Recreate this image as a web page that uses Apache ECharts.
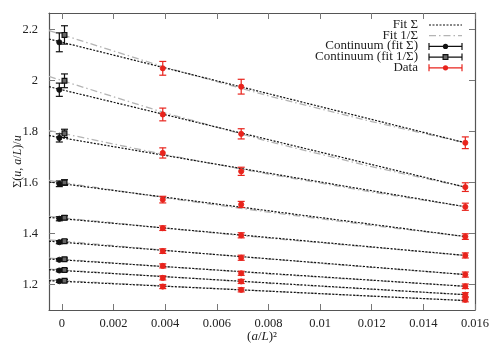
<!DOCTYPE html>
<html>
<head>
<meta charset="utf-8">
<script src="https://cdn.jsdelivr.net/npm/echarts@6/dist/echarts.min.js"></script>
<style>html,body{margin:0;padding:0;background:#fff}#c{width:495px;height:349px}</style>
</head>
<body>
<div id="c"></div>
<script>
// ---- data ----
const xTicks = [0, 0.002, 0.004, 0.006, 0.008, 0.01, 0.012, 0.014, 0.016];
const yTicks = [1.2, 1.4, 1.6, 1.8, 2.0, 2.2];

// lattice data points: (a/L)^2 for L/a = 16, 12, 8
const dataX = [0.00390625, 0.00694444, 0.015625];
const dataL16 = [2.048, 1.867, 1.716, 1.533, 1.421, 1.331, 1.273, 1.226, 1.192];
const errL16  = [0.027, 0.025, 0.020, 0.013, 0.009, 0.009, 0.008, 0.008, 0.008];
const dataL12 = [1.976, 1.791, 1.644, 1.514, 1.393, 1.305, 1.244, 1.212, 1.179];
const errL12  = [0.029, 0.020, 0.016, 0.012, 0.010, 0.010, 0.008, 0.008, 0.008];
const dataL8  = [1.756, 1.582, 1.505, 1.388, 1.314, 1.239, 1.193, 1.160, 1.140];
const errL8   = [0.023, 0.017, 0.014, 0.011, 0.010, 0.010, 0.009, 0.008, 0.008];

// continuum extrapolations (drawn slightly offset around x = 0)
const contSigmaX = -0.0001;
const contSigma    = [2.150, 1.964, 1.775, 1.595, 1.458, 1.366, 1.297, 1.255, 1.213];
const contSigmaErr = [0.037, 0.026, 0.016, 0.011, 0.008, 0.006, 0.005, 0.005, 0.005];
const contInvX = 0.0001;
const contInv    = [2.179, 1.999, 1.793, 1.600, 1.462, 1.370, 1.299, 1.257, 1.215];
const contInvErr = [0.036, 0.027, 0.016, 0.011, 0.008, 0.006, 0.005, 0.005, 0.005];

// Fit Sigma (straight lines): values at both ends
const fitSigmaX = [-0.0005, 0.015625];
const fitSigmaStart = [2.163, 1.976, 1.784, 1.602, 1.463, 1.370, 1.300, 1.258, 1.215];
const fitSigmaEnd   = [1.756, 1.582, 1.505, 1.388, 1.314, 1.239, 1.193, 1.160, 1.137];

// Fit 1/Sigma (slightly curved): values
const fitInvX = [-0.0005, 0.004, 0.008, 0.012, 0.015625];
const fitInvCurves = [
  [2.196, 2.052, 1.940, 1.839, 1.756],
  [2.016, 1.873, 1.761, 1.662, 1.582],
  [1.804, 1.709, 1.633, 1.563, 1.505],
  [1.608, 1.540, 1.484, 1.432, 1.388],
  [1.467, 1.421, 1.382, 1.346, 1.314],
  [1.375, 1.334, 1.300, 1.267, 1.239],
  [1.303, 1.270, 1.242, 1.216, 1.193],
  [1.260, 1.231, 1.205, 1.181, 1.160],
  [1.218, 1.194, 1.174, 1.154, 1.137]
];

// ---- build ----
const RED = '#e8231c';
const FONT = '"Liberation Serif", "DejaVu Serif", serif';

function errRender(color, marker) {
  return function (params, api) {
    const x = api.value(0), y = api.value(1), e = api.value(2);
    const p = api.coord([x, y]);
    const t = api.coord([x, y + e]);
    const b = api.coord([x, y - e]);
    const cw = 3.5;
    const st = { stroke: color, lineWidth: 1.2 };
    const ch = [
      { type: 'line', shape: { x1: p[0], y1: t[1], x2: p[0], y2: b[1] }, style: st },
      { type: 'line', shape: { x1: p[0] - cw, y1: t[1], x2: p[0] + cw, y2: t[1] }, style: st },
      { type: 'line', shape: { x1: p[0] - cw, y1: b[1], x2: p[0] + cw, y2: b[1] }, style: st }
    ];
    if (marker === 'circle') {
      ch.push({ type: 'circle', shape: { cx: p[0], cy: p[1], r: 2.6 }, style: { fill: color, stroke: color, lineWidth: 0.8 } });
    } else {
      ch.push({ type: 'rect', shape: { x: p[0] - 2.4, y: p[1] - 2.4, width: 4.8, height: 4.8 }, style: { fill: '#666', stroke: color, lineWidth: 1.2 } });
    }
    return { type: 'group', children: ch };
  };
}

const series = [];
fitInvCurves.forEach((c, i) => {
  series.push({
    type: 'line', name: 'Fit 1/Σ', showSymbol: false, silent: true, z: 1,
    data: fitInvX.map((x, k) => [x, c[k]]),
    lineStyle: { color: '#b4b4b4', width: 1.3, type: [7, 3, 1.5, 3] }
  });
});
fitSigmaStart.forEach((s, i) => {
  series.push({
    type: 'line', name: 'Fit Σ', showSymbol: false, silent: true, z: 2,
    data: [[fitSigmaX[0], s], [fitSigmaX[1], fitSigmaEnd[i]]],
    lineStyle: { color: '#111', width: 1.2, type: [2, 1.5] }
  });
});
const dataPts = [];
[dataL16, dataL12, dataL8].forEach((arr, j) => {
  const errs = [errL16, errL12, errL8][j];
  arr.forEach((v, i) => dataPts.push([dataX[j], v, errs[i]]));
});
series.push({ type: 'custom', name: 'Data', z: 5, renderItem: errRender(RED, 'circle'), data: dataPts, encode: { x: 0, y: 1 } });
series.push({ type: 'custom', name: 'Continuum (fit Σ)', z: 5, renderItem: errRender('#111', 'circle'),
  data: contSigma.map((v, i) => [contSigmaX, v, contSigmaErr[i]]), encode: { x: 0, y: 1 } });
series.push({ type: 'custom', name: 'Continuum (fit 1/Σ)', z: 6, renderItem: errRender('#111', 'square'),
  data: contInv.map((v, i) => [contInvX, v, contInvErr[i]]), encode: { x: 0, y: 1 } });

// legend drawn as graphic (right-aligned text, sample on the right)
const legRows = [
  { text: 'Fit Σ', kind: 'dot' },
  { text: 'Fit 1/Σ', kind: 'dashdot' },
  { text: 'Continuum (fit Σ)', kind: 'errc', color: '#111' },
  { text: 'Continuum (fit 1/Σ)', kind: 'errs', color: '#111' },
  { text: 'Data', kind: 'errc', color: RED }
];
const legX0 = 429, legX1 = 462, legTextRight = 418, legY0 = 25, legDy = 10.7;
const graphic = [];
legRows.forEach((r, i) => {
  const y = legY0 + i * legDy;
  graphic.push({ type: 'text', right: 495 - legTextRight, top: y - 7, z: 10,
    style: { text: r.text, font: '13px ' + FONT, fill: '#222', textAlign: 'right' } });
  if (r.kind === 'dot') {
    graphic.push({ type: 'line', z: 10, shape: { x1: legX0, y1: y, x2: legX1, y2: y }, style: { stroke: '#111', lineWidth: 1.2, lineDash: [2, 1.5] } });
  } else if (r.kind === 'dashdot') {
    graphic.push({ type: 'line', z: 10, shape: { x1: legX0, y1: y, x2: legX1, y2: y }, style: { stroke: '#b4b4b4', lineWidth: 1.3, lineDash: [7, 3, 1.5, 3] } });
  } else {
    const st = { stroke: r.color, lineWidth: 1.2 };
    graphic.push({ type: 'line', z: 10, shape: { x1: legX0, y1: y, x2: legX1, y2: y }, style: st });
    graphic.push({ type: 'line', z: 10, shape: { x1: legX0, y1: y - 3.5, x2: legX0, y2: y + 3.5 }, style: st });
    graphic.push({ type: 'line', z: 10, shape: { x1: legX1, y1: y - 3.5, x2: legX1, y2: y + 3.5 }, style: st });
    const cx = (legX0 + legX1) / 2;
    if (r.kind === 'errc') {
      graphic.push({ type: 'circle', z: 11, shape: { cx: cx, cy: y, r: 2.6 }, style: { fill: r.color } });
    } else {
      graphic.push({ type: 'rect', z: 11, shape: { x: cx - 2.4, y: y - 2.4, width: 4.8, height: 4.8 }, style: { fill: '#666', stroke: r.color, lineWidth: 1.2 } });
    }
  }
});

const axisLineStyle = { show: true, onZero: false, lineStyle: { color: '#555', width: 1.2 } };
const tickStyle = { show: true, inside: true, length: 6, lineStyle: { color: '#777', width: 1 } };
const XMIN = -0.0005, XMAX = 0.016, YMIN = 1.1, YMAX = 2.265;

const option = {
  animation: false,
  backgroundColor: '#fff',
  grid: { left: 49, right: 20, top: 13, bottom: 39, show: false, containLabel: false, outerBoundsMode: 'none' },
  xAxis: [
    { type: 'value', min: XMIN, max: XMAX, position: 'bottom',
      axisLine: axisLineStyle, splitLine: { show: false },
      axisTick: Object.assign({ customValues: xTicks }, tickStyle),
      axisLabel: { customValues: xTicks, margin: 7, color: '#222', fontFamily: FONT, fontSize: 12.5,
        formatter: v => String(+v.toFixed(4)) },
      name: '{p|(}{i|a}{p|/}{i|L}{p|)²}', nameLocation: 'middle', nameGap: 20, nameMoveOverlap: false,
      nameTextStyle: { rich: { p: { fontFamily: FONT, fontSize: 13, color: '#222' }, i: { fontFamily: FONT, fontSize: 13, fontStyle: 'italic', color: '#222' } } }
    },
    { type: 'value', min: XMIN, max: XMAX, position: 'top',
      axisLine: axisLineStyle, splitLine: { show: false },
      axisTick: Object.assign({ customValues: xTicks }, tickStyle),
      axisLabel: { show: false } }
  ],
  yAxis: [
    { type: 'value', min: YMIN, max: YMAX, position: 'left',
      axisLine: axisLineStyle, splitLine: { show: false },
      axisTick: Object.assign({ customValues: yTicks }, tickStyle),
      axisLabel: { customValues: yTicks, margin: 11, color: '#222', fontFamily: FONT, fontSize: 12.5,
        formatter: v => String(+v.toFixed(2)) },
      name: '{p|Σ(}{i|u}{p|, }{i|a}{p|/}{i|L}{p|)/}{i|u}', nameLocation: 'middle', nameGap: 25, nameRotate: 90, nameMoveOverlap: false,
      nameTextStyle: { rich: { p: { fontFamily: FONT, fontSize: 12, color: '#222' }, i: { fontFamily: FONT, fontSize: 12, fontStyle: 'italic', color: '#222' } } }
    },
    { type: 'value', min: YMIN, max: YMAX, position: 'right',
      axisLine: axisLineStyle, splitLine: { show: false },
      axisTick: Object.assign({ customValues: yTicks }, tickStyle),
      axisLabel: { show: false } }
  ],
  graphic: graphic,
  series: series
};

const chart = echarts.init(document.getElementById('c'), null, { renderer: 'canvas' });
chart.setOption(option);
</script>
</body>
</html>
